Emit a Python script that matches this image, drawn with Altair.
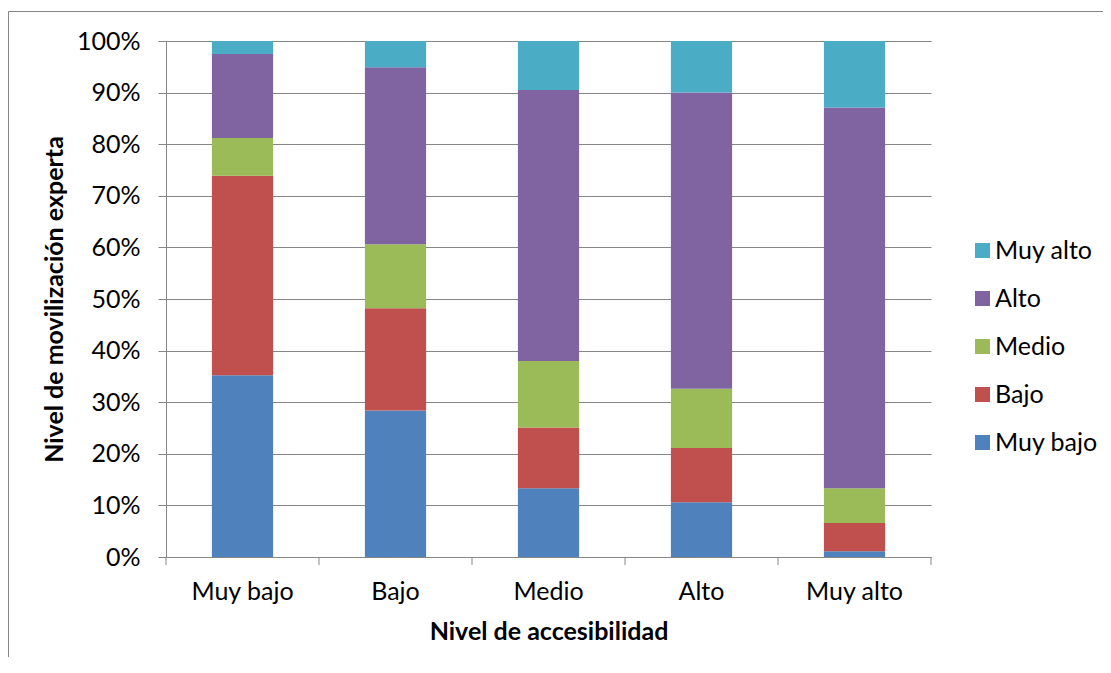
import altair as alt
import pandas as pd

categories = ["Muy bajo", "Bajo", "Medio", "Alto", "Muy alto"]
levels = ["Muy bajo", "Bajo", "Medio", "Alto", "Muy alto"]
colors = ["#4F81BD", "#C0504D", "#9BBB59", "#8064A2", "#4BACC6"]

muy_bajo = [35.2, 28.4, 13.3, 10.6, 1.1]
bajo = [38.7, 19.8, 11.8, 10.5, 5.5]
medio = [7.3, 12.4, 12.9, 11.5, 6.7]
alto = [16.3, 34.3, 52.5, 57.4, 73.8]
muy_alto = [2.5, 5.1, 9.5, 10.0, 12.9]

series = [muy_bajo, bajo, medio, alto, muy_alto]
rows = []
for li, (lvl, vals) in enumerate(zip(levels, series)):
    for cat, v in zip(categories, vals):
        rows.append({"acc": cat, "nivel": lvl, "valor": v, "idx": li})
df = pd.DataFrame(rows)

FONT = "Lato"
GRAY = "#868686"
W, H = 765, 516
PL, PT, PR, PB = 158, 33, 172, 100

x_enc = alt.X(
    "acc:N",
    sort=categories,
    scale=alt.Scale(paddingInner=0, paddingOuter=0),
    axis=alt.Axis(
        title="Nivel de accesibilidad",
        labelAngle=0,
        ticks=False,
        labelPadding=22,
        titlePadding=15,
        domainColor=GRAY,
        grid=False,
    ),
)

bars = alt.Chart(df).mark_bar(width=alt.RelativeBandSize(0.4)).encode(
    x=x_enc,
    y=alt.Y(
        "valor:Q",
        stack="normalize",
        scale=alt.Scale(domain=[0, 1], nice=False),
        axis=alt.Axis(
            title="Nivel de movilización experta",
            format=".0%",
            values=[i / 10 for i in range(11)],
            tickSize=8,
            tickColor=GRAY,
            domainColor=GRAY,
            gridColor=GRAY,
            labelPadding=18,
            titlePadding=9,
        ),
    ),
    color=alt.Color(
        "nivel:N",
        scale=alt.Scale(domain=levels[::-1], range=colors[::-1]),
        legend=alt.Legend(
            title=None,
            orient="none",
            legendX=804,
            legendY=197,
            symbolType="square",
            symbolSize=225,
            symbolStrokeWidth=0,
            labelFontSize=25,
            labelFont=FONT,
            rowPadding=22,
            labelOffset=0,
        ),
    ),
    order=alt.Order("idx:Q", sort="ascending"),
)

tick_df = pd.DataFrame({"acc": categories})
ticks = alt.Chart(tick_df).mark_rule(color=GRAY, strokeWidth=1).encode(
    x=alt.X("acc:N", sort=categories, bandPosition=0),
    y=alt.value(H),
    y2=alt.value(H + 8),
)
last_tick = alt.Chart(tick_df.tail(1)).mark_rule(color=GRAY, strokeWidth=1).encode(
    x=alt.X("acc:N", sort=categories, bandPosition=1),
    y=alt.value(H),
    y2=alt.value(H + 8),
)

frame_top = alt.Chart(tick_df.head(1)).mark_rule(color=GRAY, strokeWidth=1).encode(
    x=alt.value(-PL + 0.5),
    x2=alt.value(W + PR),
    y=alt.value(-29.5),
)
frame_left = alt.Chart(tick_df.head(1)).mark_rule(color=GRAY, strokeWidth=1).encode(
    x=alt.value(-PL + 0.5),
    y=alt.value(-29.5),
    y2=alt.value(H + PB),
)

chart = (
    alt.layer(frame_top, frame_left, bars, ticks, last_tick)
    .properties(
        width=W,
        height=H,
        autosize=alt.AutoSizeParams(type="none"),
        padding={"left": PL, "top": PT, "right": PR, "bottom": PB},
    )
    .configure_view(stroke=None)
    .configure_axis(
        labelFont=FONT,
        titleFont=FONT,
        labelFontSize=25,
        titleFontSize=25,
        titleFontWeight="bold",
        labelColor="#000000",
        titleColor="#000000",
        labelFontWeight="normal",
    )
)

chart.save("out.html", embed_options={"renderer": "svg", "actions": False})
